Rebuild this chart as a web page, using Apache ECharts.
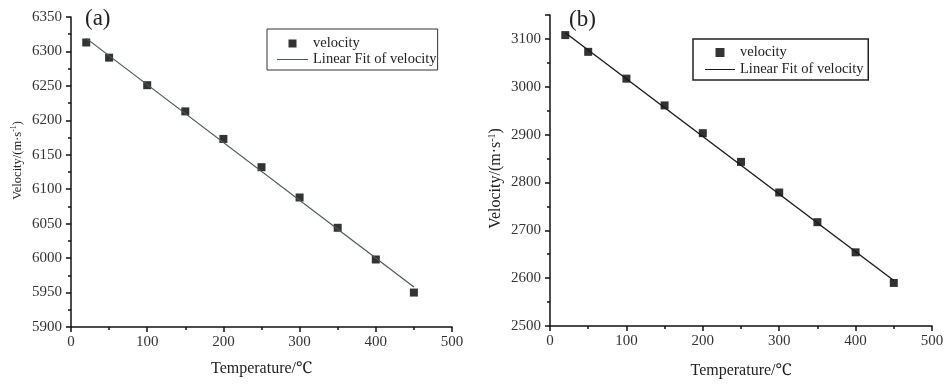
<!DOCTYPE html>
<html>
<head>
<meta charset="utf-8">
<script src="https://cdn.jsdelivr.net/npm/echarts@6/dist/echarts.min.js"></script>
<style>
    html, body { margin: 0; padding: 0; background: #fff; }
    #chart { width: 949px; height: 384px; }
</style>
</head>
<body>
<div id="chart"></div>
<script>
    // 温度点 (℃)
    var temps = [20, 50, 100, 150, 200, 250, 300, 350, 400, 450];
    // (a) 速度测量值
    var velocityA = [6313, 6291, 6251, 6213, 6173, 6132, 6088, 6044, 5998, 5950];
    // (a) 线性拟合端点
    var fitTempA = [20, 450];
    var fitA = [6319, 5958];
    // (b) 速度测量值
    var velocityB = [3108, 3073, 3017, 2961, 2903, 2843, 2779, 2717, 2654, 2590];
    // (b) 线性拟合端点
    var fitTempB = [20, 450];
    var fitB = [3113, 2595];

    var font = 'Liberation Serif, Noto Serif, serif';
    var squareIcon = 'path://M0,0L10,0L10,10L0,10Z';
    var lineIcon = 'path://M0,0L40,0L40,1.3L0,1.3Z';

    function pairs(xs, ys) {
        return xs.map(function (x, i) { return [x, ys[i]]; });
    }

    function xAxisOf(idx, gap) {
        return {
            gridIndex: idx,
            type: 'value',
            min: 0,
            max: 500,
            interval: 100,
            name: 'Temperature/℃',
            nameLocation: 'middle',
            nameGap: gap,
            nameTextStyle: { fontFamily: font, fontSize: 16, color: '#222' },
            axisLine: { onZero: false, lineStyle: { color: '#111', width: 1.5 } },
            axisTick: { length: 5, lineStyle: { color: '#111', width: 1.5 } },
            minorTick: { show: true, splitNumber: 2, length: 3, lineStyle: { color: '#111', width: 1.5 } },
            axisLabel: { fontFamily: font, fontSize: 15, color: '#333', margin: 8 },
            splitLine: { show: false }
        };
    }

    function yAxisOf(idx, min, max, interval, nameSize, namePad) {
        return {
            gridIndex: idx,
            type: 'value',
            min: min,
            max: max,
            interval: interval,
            name: 'Velocity/(m·s{sup|-1})',
            nameLocation: 'middle',
            nameGap: 46,
            nameTextStyle: {
                fontFamily: font, fontSize: nameSize, color: '#222',
                padding: namePad,
                rich: { sup: { fontFamily: font, fontSize: nameSize * 0.62, color: '#222', padding: [0, 0, 7, 0] } }
            },
            axisLine: { onZero: false, lineStyle: { color: '#111', width: 1.5 } },
            axisTick: { length: 5, lineStyle: { color: '#111', width: 1.5 } },
            minorTick: { show: true, splitNumber: 2, length: 3, lineStyle: { color: '#111', width: 1.5 } },
            axisLabel: {
                fontFamily: font, fontSize: 15, color: '#333', margin: 9,
                showMaxLabel: idx === 0,
                formatter: function (v) { return String(v); }
            },
            splitLine: { show: false }
        };
    }

    var chart = echarts.init(document.getElementById('chart'));

    var option = {
        animation: false,
        backgroundColor: '#fff',
        title: [
            { text: '(a)', left: 80, top: 2, textStyle: { fontFamily: font, fontSize: 23, fontWeight: 'normal', color: '#222' } },
            { text: '(b)', left: 564, top: 3, textStyle: { fontFamily: font, fontSize: 23, fontWeight: 'normal', color: '#222' } }
        ],
        grid: [
            { left: 71, right: 497, top: 17, bottom: 57 },
            { left: 550, right: 17, top: 15, bottom: 55 }
        ],
        legend: [
            {
                orient: 'vertical',
                left: 267,
                top: 29,
                padding: [7, 1, 3, 10],
                itemWidth: 31,
                itemHeight: 8,
                itemGap: 1,
                borderColor: '#333',
                borderWidth: 1,
                textStyle: { fontFamily: font, fontSize: 14.5, color: '#222' },
                data: [
                    { name: 'velocity', icon: squareIcon },
                    { name: 'Linear Fit of velocity', icon: lineIcon }
                ]
            },
            {
                orient: 'vertical',
                left: 693,
                top: 39,
                padding: [6, 1, 3, 12],
                itemWidth: 30,
                itemHeight: 9,
                itemGap: 2,
                borderColor: '#222',
                borderWidth: 1.5,
                textStyle: { fontFamily: font, fontSize: 14.5, color: '#222' },
                data: [
                    { name: 'velocity ', icon: squareIcon },
                    { name: 'Linear Fit of velocity ', icon: lineIcon }
                ]
            }
        ],
        xAxis: [xAxisOf(0, 34), xAxisOf(1, 37)],
        yAxis: [
            yAxisOf(0, 5900, 6350, 50, 12.5, [0, 0, 0, 23]),
            yAxisOf(1, 2500, 3150, 100, 16, [0, 16, 0, 0])
        ],
        series: [
            {
                name: 'Linear Fit of velocity',
                type: 'line',
                xAxisIndex: 0, yAxisIndex: 0,
                symbol: 'none',
                lineStyle: { color: '#4b5757', width: 1.2 },
                itemStyle: { color: '#4b5757' },
                data: pairs(fitTempA, fitA)
            },
            {
                name: 'velocity',
                type: 'scatter',
                xAxisIndex: 0, yAxisIndex: 0,
                symbol: 'rect',
                symbolSize: 8,
                itemStyle: { color: '#000' },
                data: pairs(temps, velocityA)
            },
            {
                name: 'Linear Fit of velocity ',
                type: 'line',
                xAxisIndex: 1, yAxisIndex: 1,
                symbol: 'none',
                lineStyle: { color: '#1a1a1a', width: 1.4 },
                itemStyle: { color: '#1a1a1a' },
                data: pairs(fitTempB, fitB)
            },
            {
                name: 'velocity ',
                type: 'scatter',
                xAxisIndex: 1, yAxisIndex: 1,
                symbol: 'rect',
                symbolSize: 8,
                itemStyle: { color: '#000' },
                data: pairs(temps, velocityB)
            }
        ]
    };

    chart.setOption(option);
</script>
</body>
</html>
